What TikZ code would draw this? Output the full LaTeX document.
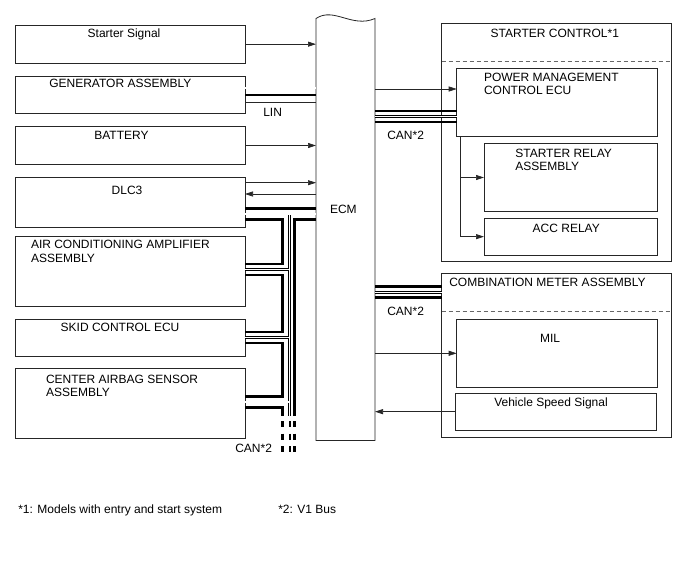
\documentclass[tikz,border=0pt]{standalone}
\usepackage{fontspec}
\setmainfont{Liberation Sans}
\usetikzlibrary{arrows.meta,calc}
\newcommand\lblfont{\fontsize{12}{13.5}\selectfont}
\begin{document}
\begin{tikzpicture}[x=1pt,y=-1pt,
  box/.style={draw=black!85, line width=0.8pt, inner sep=0pt, outer sep=0pt, anchor=north west},
  lbl/.style={anchor=base west, inner sep=0pt, outer sep=0pt, font=\lblfont},
  sig/.style={draw=black!85, line width=0.7pt, -{Triangle[length=8pt,width=5pt]}},
  sigline/.style={draw=black!85, line width=0.7pt},
  thickw/.style={draw=black, line width=2.9pt, miter limit=10},
  pairw/.style={draw=black, line width=0.7pt, double=white, double distance=1.3pt},
  sepline/.style={draw=black!60, line width=0.7pt, dash pattern=on 4pt off 3pt},
  dashw/.style={draw=black, dash pattern=on 6pt off 6.5pt}]
\useasboundingbox (0,0) rectangle (688,560);

% left boxes
\node[box, minimum width=230pt, minimum height=38.3pt] (ss) at (15,25) {};
\node[box, minimum width=230pt, minimum height=37.3pt] (gen) at (15,76) {};
\node[box, minimum width=230pt, minimum height=37.6pt] (bat) at (15,126.7) {};
\node[box, minimum width=230pt, minimum height=49.3pt] (dlc) at (15,177.7) {};
\node[box, minimum width=230pt, minimum height=70pt] (ac) at (15,236.7) {};
\node[box, minimum width=230pt, minimum height=37.7pt] (skid) at (15,319) {};
\node[box, minimum width=230pt, minimum height=70.4pt] (ab) at (15,368.3) {};

% ECM
\node[inner sep=0pt, outer sep=0pt, minimum width=59pt, minimum height=422pt, anchor=north west] (ecm) at (316,18.5) {};
\draw[black!85, line width=0.8pt] (ecm.north west) .. controls +(18,-12) and +(-23,10) .. (ecm.north east) -- (ecm.south east) -- (ecm.south west) -- cycle;

% right boxes
\node[box, minimum width=230pt, minimum height=238.4pt] (sc) at (441.7,23.3) {};
\node[box, minimum width=200.6pt, minimum height=67.7pt] (pm) at (456.7,68.3) {};
\node[box, minimum width=173.3pt, minimum height=68.4pt] (sr) at (484,143.3) {};
\node[box, minimum width=173.3pt, minimum height=36.7pt] (acc) at (484,218.3) {};
\node[box, minimum width=230pt, minimum height=164pt] (cm) at (441.7,273.3) {};
\node[box, minimum width=200.6pt, minimum height=68pt] (mil) at (456.7,319.3) {};
\node[box, minimum width=201.4pt, minimum height=36.7pt] (vss) at (455.3,393.3) {};
\draw[sepline] ($(sc.north west)+(0,38.4)$) -- ($(sc.north east)+(0,38.4)$);
\draw[sepline] ($(cm.north west)+(0,38.4)$) -- ($(cm.north east)+(0,38.4)$);

% labels
\node[lbl] (tss) at (87.7,37.7) {Starter Signal};
\node[lbl] (tgen) at (49.3,87.7) {GENERATOR ASSEMBLY};
\node[lbl] (tbat) at (94.3,139) {BATTERY};
\node[lbl] (tdlc) at (111.7,194.3) {DLC3};
\node[lbl] (tac1) at (31,248.3) {AIR CONDITIONING AMPLIFIER};
\node[lbl] (tac2) at (31,262.7) {ASSEMBLY};
\node[lbl] (tskid) at (60.7,331.7) {SKID CONTROL ECU};
\node[lbl] (tab1) at (46,383.3) {CENTER AIRBAG SENSOR};
\node[lbl] (tab2) at (46,396.7) {ASSEMBLY};
\node[lbl] (tlin) at (263.3,116.7) {LIN};
\node[lbl] (tecm) at (330,213.7) {ECM};
\node[lbl] (tcan0) at (235.3,452.3) {CAN*2};
\node[lbl] (tsc) at (490.7,37.3) {STARTER CONTROL*1};
\node[lbl] (tpm1) at (484,81) {POWER MANAGEMENT};
\node[lbl] (tpm2) at (484,94.3) {CONTROL ECU};
\node[lbl] (tcan1) at (387.3,139.3) {CAN*2};
\node[lbl] (tsr1) at (515.3,157.3) {STARTER RELAY};
\node[lbl] (tsr2) at (515.3,170.7) {ASSEMBLY};
\node[lbl] (tacc) at (532.7,232.3) {ACC RELAY};
\node[lbl] (tcm) at (449.3,286.7) {COMBINATION METER ASSEMBLY};
\node[lbl] (tcan2) at (387.3,315) {CAN*2};
\node[lbl] (tmil) at (540,342.7) {MIL};
\node[lbl] (tvss) at (494.3,406) {Vehicle Speed Signal};
\node[lbl] (fn1) at (18.3,513.3) {*1: Models with entry and start system};
\node[lbl] (fn2) at (278.3,513.3) {*2: V1 Bus};

% signal arrows
\draw[sig] (ss.east) -- (ss.east -| ecm.west);
\draw[sig] (bat.east) -- (bat.east -| ecm.west);
\coordinate (dA) at ($(dlc.north east)+(0,5)$);
\coordinate (dB) at ($(dlc.north east)+(0,16.3)$);
\draw[sig] (dA) -- (dA -| ecm.west);
\draw[sig] (dB -| ecm.west) -- (dB);
\coordinate (pA) at ($(pm.north west)+(0,20.7)$);
\draw[sig] (pA -| ecm.east) -- (pA);
\coordinate (pB) at ($(pm.south west)+(4,0)$);
\draw[sig] (pB) |- (acc.west);
\draw[sig] (pB |- sr.west) -- (sr.west);
\draw[sig] (mil.west -| ecm.east) -- (mil.west);
\draw[sig] (vss.west) -- (vss.west -| ecm.east);

% LIN
\coordinate (g1) at ($(gen.north east)+(0,12)$);
\coordinate (g2) at ($(gen.north east)+(0,19)$);
\coordinate (g3) at ($(gen.north east)+(0,26)$);
\draw[pairw] (g1) -- (g1 -| ecm.west);
\draw[thickw] (g2) -- (g2 -| ecm.west);
\draw[sigline] (g3) -- (g3 -| ecm.west);

% CAN to power management ECU
\coordinate (p1) at ($(pm.north west)+(0,42.7)$);
\coordinate (p2) at ($(pm.north west)+(0,48.2)$);
\coordinate (p3) at ($(pm.north west)+(0,53.7)$);
\draw[thickw] (p1 -| ecm.east) -- (p1);
\draw[pairw] (p2 -| ecm.east) -- (p2);
\draw[thickw] (p3 -| ecm.east) -- (p3);

% CAN to combination meter
\coordinate (c1) at ($(cm.north west)+(0,13.4)$);
\coordinate (c2) at ($(cm.north west)+(0,18.9)$);
\coordinate (c3) at ($(cm.north west)+(0,24.2)$);
\draw[thickw] (c1 -| ecm.east) -- (c1);
\draw[pairw] (c2 -| ecm.east) -- (c2);
\draw[thickw] (c3 -| ecm.east) -- (c3);

% left CAN bus
\coordinate (xL) at (282.3,0);
\coordinate (xM) at (289.7,0);
\coordinate (xR) at (294.2,0);
\coordinate (yE) at (0,416);
\coordinate (yD1) at (0,421);
\coordinate (yD2) at (0,453);
\coordinate (d1) at ($(dlc.north east)+(0,30.8)$);
\coordinate (d2) at ($(dlc.north east)+(0,36.3)$);
\coordinate (d3) at ($(dlc.north east)+(0,41.8)$);
\coordinate (a1) at ($(ac.north east)+(0,27.3)$);
\coordinate (a2) at ($(ac.north east)+(0,32.8)$);
\coordinate (a3) at ($(ac.north east)+(0,38.3)$);
\coordinate (s1) at ($(skid.north east)+(0,13)$);
\coordinate (s2) at ($(skid.north east)+(0,18.5)$);
\coordinate (s3) at ($(skid.north east)+(0,24)$);
\coordinate (b1) at ($(ab.north east)+(0,28.2)$);
\coordinate (b2) at ($(ab.north east)+(0,33.7)$);
\coordinate (b3) at ($(ab.north east)+(0,39.2)$);
\draw[thickw] (d1) -- (d1 -| ecm.west);
\draw[thickw] (d3) -- (d3 -| xL) -- (a1 -| xL) -- (a1)
              (a3) -- (a3 -| xL) -- (s1 -| xL) -- (s1)
              (s3) -- (s3 -| xL) -- (b1 -| xL) -- (b1)
              (b3) -- (b3 -| xL) -- (yE -| xL);
\draw[thickw] (d3 -| ecm.west) -- (d3 -| xR) -- (yE -| xR);
\draw[pairw] (d2) -- (d2 -| ecm.west)
             (d2 -| xM) -- (yE -| xM)
             (a2) -- (a2 -| xM)
             (s2) -- (s2 -| xM)
             (b2) -- (b2 -| xM);
\draw[dashw, line width=2.9pt] (yD1 -| xL) -- (yD2 -| xL);
\draw[dashw, line width=2pt] (yD1 -| xM) -- (yD2 -| xM);
\draw[dashw, line width=2.9pt] (yD1 -| xR) -- (yD2 -| xR);
\end{tikzpicture}
\end{document}
